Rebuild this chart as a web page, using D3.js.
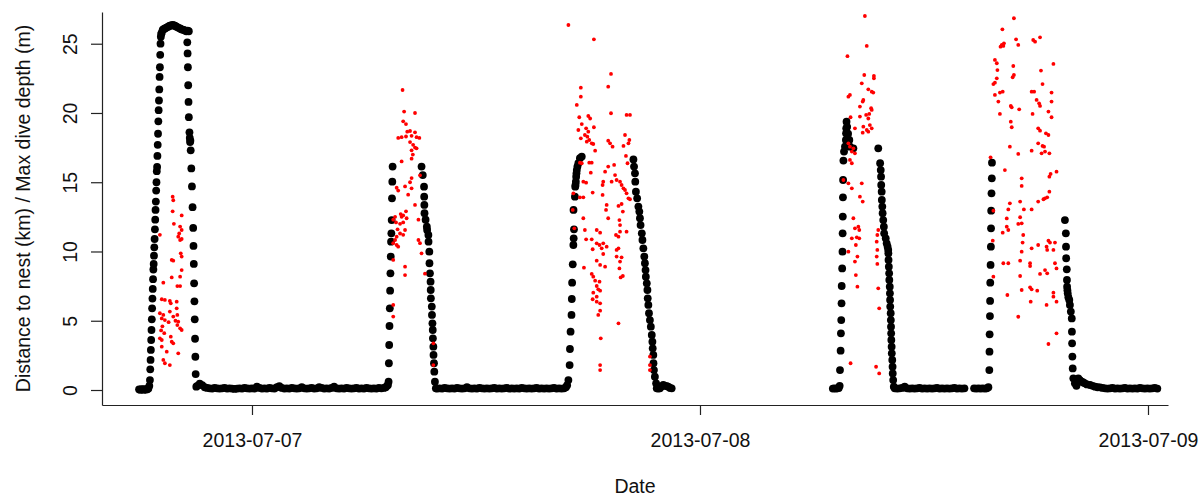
<!DOCTYPE html>
<html><head><meta charset="utf-8">
<script src="https://cdn.jsdelivr.net/npm/d3@7"></script>
<style>
body{margin:0;background:#fff}
svg{display:block}
text{font-family:Arial,"Liberation Sans",sans-serif;fill:#111}
</style>
</head><body>
<svg id="chart" width="1200" height="496"></svg>
<script>
// ---- Data ----
// Times are minutes since 2013-07-07 00:00 (UTC)
const xTickLabels = ["2013-07-07", "2013-07-08", "2013-07-09"];
const yTicks = [0, 5, 10, 15, 20, 25];
const xTitle = "Date";
const yTitle = "Distance to nest (km) / Max dive depth (m)";

// Distance to nest (km): [minute, km]
const distanceKm = [
 // trip 1
 [-363,0.05],[-360,0.02],[-357,0.04],[-354,0.03],[-351,0.06],[-348,0.02],[-345,0.05],[-342,0.03],[-339,0.04],[-336,0.08],[-333,0.1],[-330,0.3],
 [-328,0.72],[-327,1.49],[-326,2.17],[-325,2.89],[-324,3.61],[-323,4.33],[-322,5.1],[-321,5.9],[-320,6.6],[-319,7.3],[-318,8.0],[-317,8.7],[-316,9.1],[-315,9.7],[-314,10.3],[-313,10.9],[-312,11.6],[-311,12.3],[-310,13.0],[-309,13.6],[-308,14.4],[-307,15.0],[-306,15.8],[-305,16.1],[-304,16.9],[-303,17.7],[-302,18.5],[-301,19.4],[-300,20.2],[-299,20.9],[-298,21.7],[-297,22.6],[-296,23.3],[-295,24.2],[-294,25.0],[-293,25.5],[-292,25.7],
 [-290,25.8],[-287,26.0],[-284,26.05],[-280,26.1],[-276,26.15],[-272,26.2],[-268,26.25],[-264,26.3],[-260,26.32],[-255,26.35],[-251,26.32],[-248,26.3],[-244,26.25],[-240,26.2],[-236,26.15],[-231,26.1],[-227,26.05],[-223,26.0],[-219,26.0],[-215,25.95],[-211,25.9],[-207,25.95],[-203,25.9],
 [-208,25.1],[-207,24.3],[-206,23.3],[-205,22.0],[-204,20.8],[-203,19.7],[-201,18.6],[-200,18.2],[-199,17.9],[-198,18.0],[-197,17.3],[-195,16.0],[-193,14.7],[-191,13.2],[-189,11.7],[-188,10.4],[-187,9.1],[-186,7.7],[-185,6.4],[-184,5.1],[-183,3.7],[-182,2.4],[-181,1.15],[-179,0.24],
 // at nest
 [-176,0.3],[-168,0.45],[-160,0.35],[-152,0.2],[-144,0.15],[-136,0.12],[-128,0.1],[-120,0.15],[-112,0.12],[-104,0.1],[-96,0.12],[-88,0.15],[-80,0.1],[-72,0.12],[-64,0.1],[-56,0.08],[-48,0.1],[-40,0.12],[-32,0.1],[-24,0.15],[-16,0.12],[-8,0.1],[0,0.12],[8,0.1],[16,0.25],[24,0.15],[32,0.1],[40,0.12],[48,0.1],[56,0.15],[64,0.12],[72,0.1],[80,0.2],[88,0.28],[96,0.15],[104,0.1],[112,0.12],[120,0.1],[128,0.15],[136,0.12],[144,0.1],[152,0.12],[160,0.2],[168,0.12],[176,0.1],[184,0.12],[192,0.15],[200,0.1],[208,0.12],[216,0.2],[224,0.15],[232,0.1],[240,0.12],[248,0.1],[256,0.15],[264,0.25],[272,0.12],[280,0.1],[288,0.12],[296,0.1],[304,0.15],[312,0.12],[320,0.1],[328,0.12],[336,0.15],[344,0.1],[352,0.12],[360,0.1],[368,0.15],[376,0.12],[384,0.1],[392,0.12],[400,0.1],[408,0.15],[416,0.12],[424,0.15],[430,0.2],[434,0.3],
 // trip 2
 [437,0.36],[439,0.6],[440,1.93],[441,3.25],[442,4.62],[443,5.9],[444,7.17],[445,8.42],[446,9.63],[447,10.71],[448,11.31],[449,12.27],[450,13.84],[451,15.04],[452,16.13],
 [545,16.13],[549,15.52],[553,14.68],[553.5,13.96],[554,13.36],[554.5,12.76],[558,12.3],[562,11.79],[563,11.55],[567,11.19],[567.5,10.71],[570,9.99],[570.5,9.15],[572,8.42],[574,7.82],[574.5,7.22],[575,6.62],[578,6.02],[578.5,5.42],[580,4.81],[581,4.33],[581.5,3.73],[583,3.13],[583.5,2.53],[585,1.93],[586,1.32],[588,0.6],[591,0.12],
 [595,0.1],[603,0.12],[611,0.1],[619,0.15],[627,0.12],[635,0.1],[643,0.12],[651,0.1],[659,0.15],[667,0.12],[675,0.1],[683,0.12],[691,0.2],[699,0.12],[707,0.1],[715,0.12],[723,0.1],[731,0.15],[739,0.12],[747,0.1],[755,0.12],[763,0.1],[771,0.12],[779,0.15],[787,0.1],[795,0.12],[803,0.1],[811,0.12],[819,0.15],[827,0.1],[835,0.12],[843,0.1],[851,0.12],[859,0.1],[867,0.15],[875,0.12],[883,0.1],[891,0.12],[899,0.1],[907,0.12],[915,0.15],[923,0.1],[931,0.12],[939,0.1],[947,0.12],[955,0.1],[963,0.12],[971,0.15],[979,0.1],[987,0.12],[995,0.1],[1003,0.12],[1009,0.2],[1013,0.35],
 // trip 3
 [1017,0.72],[1021,1.8],[1022,2.96],[1024,4.21],[1027,5.42],[1028,6.57],[1029,7.75],[1031,9.07],[1033,10.47],[1034,10.95],[1035,11.6],[1033.5,13.0],[1038,13.96],[1039,14.68],[1040,14.8],[1041,15.04],[1042,15.4],[1043,15.64],[1044,15.88],[1046,16.13],[1049,16.37],[1054,16.73],[1060,16.85],
 [1226,16.65],[1228,16.13],[1231,15.64],[1232,15.04],[1234,14.32],[1238,13.84],[1242,13.24],[1245,12.88],[1247,12.4],[1249,11.91],[1253,11.31],[1255,10.83],[1258,10.23],[1261,9.63],[1263,9.15],[1265,8.66],[1266,8.18],[1269,7.7],[1271,7.22],[1272,6.62],[1274,6.14],[1276,5.54],[1279,5.05],[1282,4.57],[1285,3.97],[1287,3.49],[1288,3.01],[1290,2.53],[1290.5,1.93],[1292,1.44],[1295,0.96],[1299,0.48],[1301,0.12],[1306,0.1],[1311,0.12],[1316,0.25],[1322,0.36],[1328,0.3],[1333,0.28],[1338,0.24],[1344,0.15],[1349,0.12],
 // trip 4
 [1867,0.1],[1872,0.12],[1877,0.1],[1882,0.12],[1886,0.15],[1889,0.3],
 [1890,1.44],[1892,2.84],[1893,4.09],[1894,5.05],[1895,6.26],[1895.5,7.51],[1897,8.78],[1898,9.99],[1898.5,11.31],[1899,12.52],[1899.5,13.91],[1900,15.16],[1901,16.56],[1903,17.21],[1906,17.57],[1909,18.05],[1909.5,18.53],[1910,18.89],[1911,19.37],[1913,19.0],[1916,18.5],[1920,18.05],[1922,17.57],[1933,17.45],
 [2013,17.45],[2019,16.37],[2021,15.88],[2022,15.4],[2022.5,14.8],[2024,14.32],[2024.5,13.72],[2026,13.24],[2027,12.76],[2029,12.27],[2031,11.79],[2032,11.31],[2037,10.95],[2040,10.59],[2043,10.35],[2045,10.11],[2045.5,9.87],[2046,9.39],[2047,8.9],[2048,8.42],[2048.5,7.94],[2050,7.46],[2050.5,6.98],[2051,6.5],[2051.5,6.02],[2053,5.54],[2053.5,5.05],[2054,4.57],[2054.5,4.09],[2055,3.61],[2056,3.13],[2056.5,2.65],[2058,2.17],[2059,1.68],[2059.5,1.2],[2061,0.72],[2063,0.24],
 [2066,0.12],[2074,0.1],[2082,0.12],[2090,0.15],[2098,0.25],[2106,0.12],[2114,0.1],[2122,0.12],[2130,0.1],[2138,0.12],[2146,0.15],[2154,0.1],[2162,0.12],[2170,0.1],[2178,0.12],[2186,0.1],[2194,0.12],[2202,0.15],[2210,0.1],[2218,0.12],[2226,0.1],[2234,0.12],[2242,0.1],[2250,0.12],[2258,0.15],[2266,0.1],[2274,0.12],[2282,0.1],[2290,0.12],
 // trip 5
 [2321,0.12],[2328,0.1],[2335,0.12],[2342,0.1],[2349,0.12],[2356,0.1],[2362,0.12],[2367,0.2],
 [2370,1.44],[2370.5,2.77],[2371,4.02],[2372,5.34],[2372.5,6.43],[2373,7.75],[2374,9.03],[2375,10.35],[2375.5,11.67],[2376,12.95],[2377,14.2],[2378,15.28],[2378.5,16.41],
 [2613,12.27],[2616,11.31],[2616.5,10.35],[2617,9.51],[2619,8.71],[2619.5,7.94],[2620,7.46],[2621,7.2],[2622,6.98],[2624,6.7],[2627,6.5],[2629,6.14],[2632,5.66],[2635,5.17],[2635.5,4.21],[2636,3.37],[2637,2.41],[2638,1.56],[2640,0.84],[2645,0.48],[2650,0.3],
 [2656,0.84],[2661,0.72],[2667,0.6],[2672,0.55],[2677,0.48],[2684,0.4],[2694,0.36],[2702,0.3],[2710,0.24],[2718,0.2],[2726,0.19],[2734,0.15],[2742,0.12],[2750,0.1],[2758,0.12],[2766,0.15],[2774,0.1],[2782,0.12],[2790,0.1],[2798,0.12],[2806,0.15],[2814,0.1],[2822,0.12],[2830,0.1],[2838,0.12],[2846,0.1],[2854,0.15],[2862,0.12],[2870,0.1],[2878,0.12],[2886,0.1],[2894,0.12],[2902,0.15],[2910,0.1]
];

// Max dive depth (m): [minute, m]
const diveDepthM = [
 // trip 1
 [-255,13.96],[-253,13.7],[-255,12.9],[-226,12.6],[-251,12.0],[-231,11.8],[-226,11.55],[-234,11.3],[-296,11.2],[-237,11.07],[-231,10.83],[-226,10.9],[-229,9.87],[-226,9.63],[-258,9.39],[-253,9.34],[-226,8.66],[-231,8.18],[-258,8.13],[-285,7.75],[-240,7.5],[-231,7.5],[-290,6.55],[-280,6.5],[-264,6.43],[-261,6.26],[-242,6.38],[-242,5.9],[-296,5.54],[-285,5.42],[-290,5.17],[-280,5.05],[-264,5.66],[-253,5.3],[-240,5.42],[-237,4.93],[-240,4.69],[-231,4.45],[-226,4.33],[-296,3.73],[-290,3.61],[-261,3.85],[-258,3.49],[-253,3.37],[-290,3.13],[-274,2.77],[-285,2.17],[-280,1.93],[-264,1.8],[-237,2.65],[-288,4.6],[-282,4.1],[-268,4.9],[-246,5.0],[-292,4.3],
 // trip 2
 [484,21.66],[489,20.1],[524,20.0],[486,19.4],[495,19.2],[499,18.65],[508,18.7],[524,18.6],[470,18.2],[481,18.25],[495,18.3],[513,18.35],[529,18.25],[538,18.2],[508,17.9],[518,17.7],[524,17.5],[513,17.3],[529,17.45],[517,17.0],[513,16.7],[481,16.5],[540,15.5],[513,15.3],[508,15.0],[492,14.7],[513,14.56],[502,14.1],[465,14.6],[470,14.4],[524,13.36],[495,12.9],[486,12.6],[481,12.5],[497,12.4],[460,12.5],[454,12.3],[535,12.3],[476,12.0],[486,12.1],[492,11.55],[476,11.3],[486,11.2],[465,11.07],[460,10.83],[454,10.6],[465,10.47],[470,10.35],[535,10.83],[540,10.6],[545,9.87],[454,9.39],[492,8.9],[492,8.3],[556,8.4],[454,6.14],[454,5.3],[583,3.37],[583,1.8],[463,12.1],[478,12.7],[468,11.6],
 // trip 3
 [1017,26.35],[1099,25.32],[1154,22.82],[1145,21.9],[1057,21.83],[1057,21.18],[1044,20.58],[1154,19.98],[1204,19.86],[1215,19.86],[1052,19.69],[1081,19.78],[1087,19.6],[1060,19.2],[1049,18.77],[1074,18.89],[1099,18.97],[1081,18.65],[1057,18.17],[1199,18.41],[1070,18.41],[1078,18.29],[1084,18.05],[1145,18.0],[1151,17.81],[1213,18.05],[1210,17.81],[1092,17.81],[1097,17.76],[1076,17.93],[1159,17.57],[1194,17.62],[1103,17.28],[1054,16.41],[1060,16.37],[1084,16.41],[1092,16.41],[1202,16.9],[1207,16.37],[1164,16.25],[1145,16.13],[1135,15.76],[1089,15.69],[1065,15.04],[1074,14.97],[1167,15.52],[1172,15.16],[1183,15.04],[1188,14.8],[1194,14.56],[1199,14.44],[1204,14.2],[1210,13.84],[1215,13.77],[1129,15.04],[1127,14.8],[1156,15.04],[1033,14.2],[1095,14.25],[1127,14.08],[1054,13.91],[1065,13.91],[1140,13.36],[1138,13.0],[1188,13.43],[1178,13.29],[1192,12.88],[1031,13.0],[1065,12.4],[1145,12.4],[1181,12.27],[1183,11.91],[1108,11.55],[1119,11.36],[1183,11.43],[1204,11.43],[1070,11.55],[1092,10.88],[1074,10.88],[1170,11.19],[1178,11.07],[1108,10.59],[1117,10.47],[1129,10.59],[1140,10.35],[1095,10.16],[1124,10.23],[1178,10.23],[1172,10.11],[1172,9.63],[1188,9.58],[1129,9.82],[1108,9.34],[1119,9.03],[1135,8.9],[1183,9.27],[1181,8.78],[1067,8.83],[1092,8.38],[1097,8.18],[1192,8.23],[1185,8.13],[1103,7.89],[1108,7.51],[1117,7.82],[1113,7.27],[1119,7.17],[1097,7.03],[1108,6.74],[1095,6.55],[1108,6.38],[1119,6.26],[1113,5.42],[1119,5.73],[1178,4.81],[1121,3.73],[1119,1.8],[1119,1.44],[1279,2.41],[1279,1.8],[1279,1.44],[1036,11.67],
 // trip 4
 [1970,27.0],[1976,24.84],[1914,24.1],[1968,22.74],[1999,22.67],[1999,22.5],[1960,22.14],[1981,21.71],[1992,21.54],[1997,21.47],[1922,21.3],[1917,21.18],[1965,20.94],[1963,20.82],[1954,20.46],[1990,20.34],[1992,20.22],[1924,19.69],[1954,19.74],[1974,19.86],[1984,19.93],[1981,19.6],[1938,18.89],[1965,19.01],[1986,19.13],[1992,18.89],[1981,18.65],[1963,18.58],[1976,18.77],[1917,17.81],[1922,17.57],[1933,17.45],[1928,17.21],[1938,17.09],[1922,16.61],[1928,16.37],[1901,15.16],[1917,14.92],[1928,14.56],[1960,14.92],[1954,13.96],[1963,13.6],[1933,12.4],[1938,11.67],[1949,11.79],[1952,11.55],[1928,10.95],[1944,11.02],[1952,10.95],[1917,9.99],[1941,10.47],[1938,9.27],[1946,9.63],[1941,8.3],[1946,7.46],[2013,11.55],[2010,11.19],[2008,10.71],[2010,10.11],[2008,9.63],[2010,9.1],[2013,7.34],[2016,5.9],[1924,1.93],[2006,1.68],[2016,1.2],
 // trip 5
 [2449,26.84],[2412,26.04],[2533,25.46],[2511,25.27],[2517,25.15],[2456,25.32],[2463,24.91],[2410,24.91],[2417,25.03],[2415,24.84],[2406,24.79],
 [2388,23.83],[2394,23.59],[2447,23.39],[2396,23.1],[2576,23.54],[2536,23.06],
 [2449,22.74],[2445,22.58],[2394,22.5],[2388,22.19],[2383,22.09],
 [2541,22.09],[2404,21.47],[2413,21.54],[2388,21.3],[2506,21.54],[2514,21.54],[2570,21.47],[2399,20.82],[2522,20.94],[2530,20.7],[2533,20.51],[2570,20.82],[2439,20.51],[2442,20.41],[2466,20.26],[2404,19.93],[2509,19.93],[2560,20.1],[2570,19.69],[2439,19.37],[2442,18.97],
 [2527,18.89],[2533,18.72],[2552,18.53],[2560,18.41],[2436,17.57],[2463,17.04],[2506,17.28],[2527,17.81],[2541,17.62],[2549,17.21],[2538,17.09],[2563,17.09],[2546,17.57],
 [2374,16.8],[2420,15.88],[2567,15.6],[2563,15.4],[2586,15.76],[2474,15.28],[2474,14.73],[2563,14.32],[2549,13.84],[2527,13.6],[2544,13.77],[2556,13.91],[2436,13.48],[2469,13.6],[2481,13.04],[2506,13.04],[2431,13.04],[2383,12.95],
 [2426,12.39],[2469,12.47],[2474,12.03],[2426,11.79],[2431,11.55],[2413,11.36],[2463,11.99],[2479,11.19],[2381,10.78],[2477,10.64],[2560,10.78],[2565,10.64],[2581,10.64],[2554,10.35],[2506,10.23],[2527,10.47],[2556,10.11],[2576,10.11],[2474,9.99],[2415,9.15],[2431,9.15],[2469,9.34],[2501,9.15],[2501,8.95],[2581,9.15],[2586,8.78],[2549,8.66],[2556,8.42],[2383,8.18],[2469,8.23],[2533,8.38],
 [2501,7.41],[2506,7.27],[2524,7.17],[2474,7.22],[2428,6.86],[2576,7.03],[2576,6.74],[2586,6.38],[2503,6.38],[2554,6.14],[2463,5.29],[2586,4.09],[2560,3.32]
];

// ---- Chart ----
const plot = {left: 102, right: 1168, top: 12, bottom: 405};
const t0 = Date.UTC(2013, 6, 7);
const toDate = m => new Date(t0 + m * 60000);

const svg = d3.select("#chart");

const x = d3.scaleUtc()
  .domain([toDate(-482.1), toDate(2944.3)])
  .range([plot.left, plot.right]);
const y = d3.scaleLinear()
  .domain([-1.083, 27.29])
  .range([plot.bottom, plot.top]);

// axes
const xAxis = d3.axisBottom(x)
  .tickValues(xTickLabels.map(s => d3.utcParse("%Y-%m-%d")(s)))
  .tickFormat(d3.utcFormat("%Y-%m-%d"))
  .tickSize(10).tickSizeOuter(0);
const gx = svg.append("g").attr("transform", `translate(0,${plot.bottom})`).call(xAxis);
gx.selectAll("text").attr("y", 42).attr("dy", 0).style("font-size", "19.5px").attr("fill", "#111");
gx.select(".domain").attr("stroke", "#222").attr("stroke-width", 1.2);
gx.selectAll(".tick line").attr("stroke", "#222").attr("stroke-width", 1.2);

const yAxis = d3.axisLeft(y).tickValues(yTicks).tickFormat(d3.format("d")).tickSize(11).tickSizeOuter(0);
const gy = svg.append("g").attr("transform", `translate(${plot.left},0)`).call(yAxis);
gy.selectAll("text")
  .attr("transform", "rotate(-90)")
  .attr("x", 0).attr("y", -25).attr("dy", 0)
  .style("text-anchor", "middle").style("font-size", "19.5px").attr("fill", "#111");
gy.select(".domain").attr("stroke", "#222").attr("stroke-width", 1.2);
gy.selectAll(".tick line").attr("stroke", "#222").attr("stroke-width", 1.2);

// titles
svg.append("text").attr("x", (plot.left + plot.right) / 2).attr("y", 493)
  .attr("text-anchor", "middle").style("font-size", "19.5px").text(xTitle);
svg.append("text")
  .attr("transform", `translate(30,${(plot.top + plot.bottom) / 2}) rotate(-90)`)
  .attr("text-anchor", "middle").style("font-size", "19.5px").text(yTitle);

// points
svg.append("g").selectAll("circle").data(distanceKm).join("circle")
  .attr("cx", d => x(toDate(d[0]))).attr("cy", d => y(d[1]))
  .attr("r", 3.9).attr("fill", "#000");
svg.append("g").selectAll("circle").data(diveDepthM).join("circle")
  .attr("cx", d => x(toDate(d[0]))).attr("cy", d => y(d[1]))
  .attr("r", 1.9).attr("fill", "#ff0000");
</script>
</body></html>
